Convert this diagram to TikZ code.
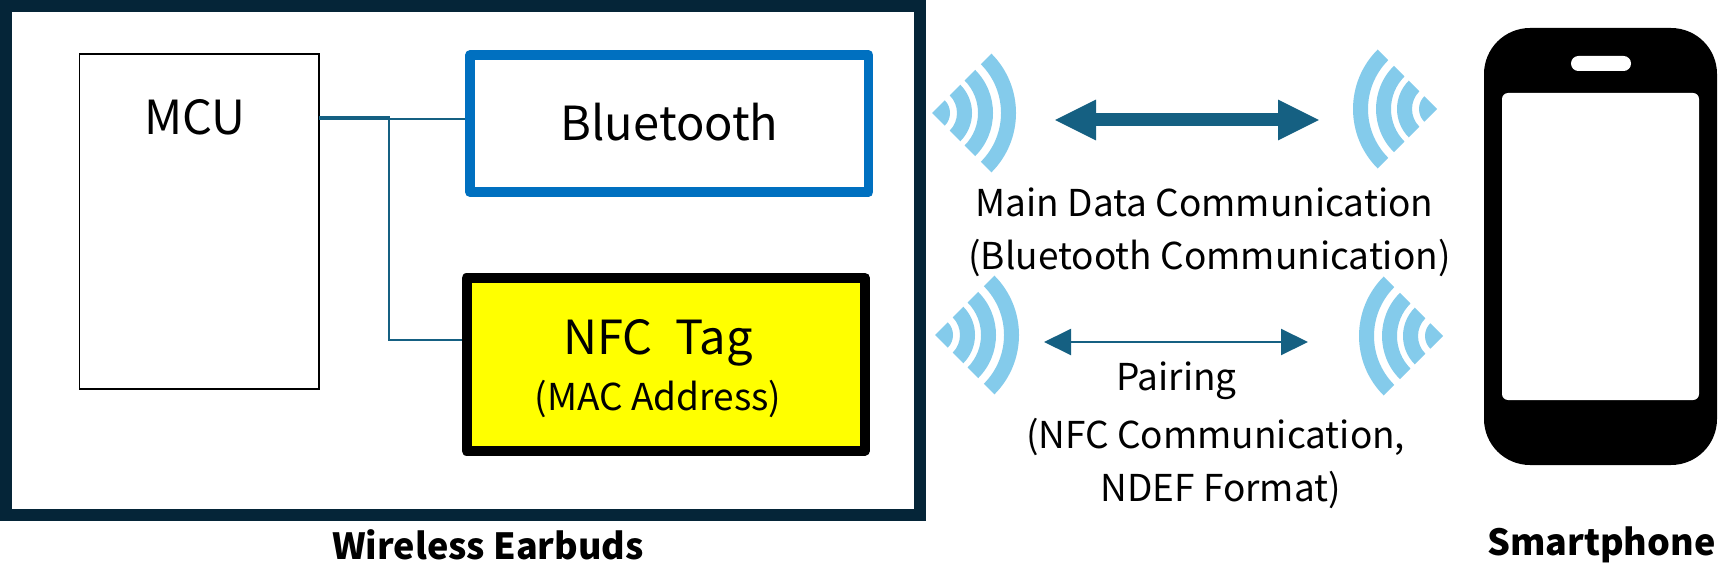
\documentclass[tikz,border=0pt]{standalone}
\usepackage{fontspec}
\usetikzlibrary{arrows.meta}
\setmainfont{Noto Sans CJK JP}
\definecolor{framecol}{HTML}{052538}
\definecolor{linecol}{HTML}{156082}
\definecolor{btcol}{HTML}{0070C0}
\definecolor{wavecol}{HTML}{84CBEB}
\definecolor{tagyellow}{RGB}{255,255,0}
\newcommand{\band}[2]{(-45:#1) arc[start angle=-45,end angle=45,radius=#1] -- (45:#2) arc[start angle=45,end angle=-45,radius=#2] -- cycle}
\tikzset{
  waves/.pic={\fill[wavecol] (0,0) -- (-45:18) arc[start angle=-45,end angle=45,radius=18] -- cycle \band{40}{25} \band{61}{46} \band{84}{69};},
  labeltext/.style={font=\fontsize{37}{53}\selectfont,align=center,text=black,inner sep=0},
  bigtext/.style={font=\fontsize{47}{55}\selectfont,align=center,text=black,inner sep=0},
  boldtext/.style={font=\fontsize{36}{44}\selectfont\bfseries,text=black,inner sep=0,anchor=base},
  wire/.style={draw=linecol,line width=2pt},
  thickwire/.style={draw=linecol,line width=4pt},
  fatarrow/.style={draw=linecol,line width=13pt,{Triangle[length=42pt,width=37.5pt]}-{Triangle[length=42pt,width=37.5pt]}},
  thinarrow/.style={draw=linecol,line width=2pt,{Triangle[length=27pt,width=26pt]}-{Triangle[length=27pt,width=26pt]}},
}
\begin{document}
\begin{tikzpicture}[x=1pt,y=-1pt]
\useasboundingbox (0,0) rectangle (1718,575);
\fill[white] (0,0) rectangle (1718,575);
\node[draw=framecol,line width=12pt,minimum width=914pt,minimum height=508.5pt,inner sep=0] (frame) at (463,260.25) {};
\node[draw=black,line width=1.8pt,minimum width=239.5pt,minimum height=335pt,inner sep=0] (mcu) at (199.25,221.5) {};
\node[bigtext] (mcutext) at (195,117) {MCU};
\node[draw=btcol,line width=9.5pt,line join=round,minimum width=398.5pt,minimum height=137.25pt,inner sep=0] (bt) at (669.25,123.6) {};
\node[bigtext] (bttext) at (669.5,122) {Bluetooth};
\node[draw=black,fill=tagyellow,line width=10pt,line join=round,minimum width=398.5pt,minimum height=172.5pt,inner sep=0] (nfc) at (665.75,364.25) {};
\node[bigtext] (nfctext) at (658,343) {NFC\hspace{0.25em} Tag};
\node[labeltext] (mac) at (658,399) {(MAC Address)};
\coordinate (jn) at (390,118);
\draw[thickwire] (319,118) -- (jn);
\draw[wire] (jn |- 0,119) -- (bt.west |- 0,119);
\draw[wire] (389,118) |- (nfc.west |- 0,340);
\pic at (932,113) {waves};
\pic at (935,335) {waves};
\pic[xscale=-1] at (1437,109) {waves};
\pic[xscale=-1] at (1443,336) {waves};
\coordinate (a1) at (1054,120); \coordinate (a2) at (1320,120);
\coordinate (b1) at (1044,342); \coordinate (b2) at (1308,342);
\draw[fatarrow] (a1) -- (a2);
\draw[thinarrow] (b1) -- (b2);
\node[labeltext] (main) at (1209.5,232.5) {Main Data Communication\rule{10pt}{0pt}\\(Bluetooth Communication)};
\node[labeltext] (pair) at (1176.5,381) {Pairing};
\node[labeltext] (nfcc) at (1220.7,463.5) {(NFC Communication,\rule{10pt}{0pt}\\NDEF Format)};
\node[boldtext] (we) at (488,559) {Wireless Earbuds};
\node[boldtext] (sp) at (1601.5,555) {Smartphone};
\node[fill=black,rounded corners=46pt,minimum width=233pt,minimum height=437pt,inner sep=0] (phone) at (1600.5,246.5) {};
\node[fill=white,rounded corners=6pt,minimum width=197pt,minimum height=307pt,inner sep=0] (screen) at (1600.5,246.5) {};
\node[fill=white,rounded corners=7.4pt,minimum width=60pt,minimum height=15pt,inner sep=0] (speaker) at (1601,63.5) {};
\end{tikzpicture}
\end{document}
